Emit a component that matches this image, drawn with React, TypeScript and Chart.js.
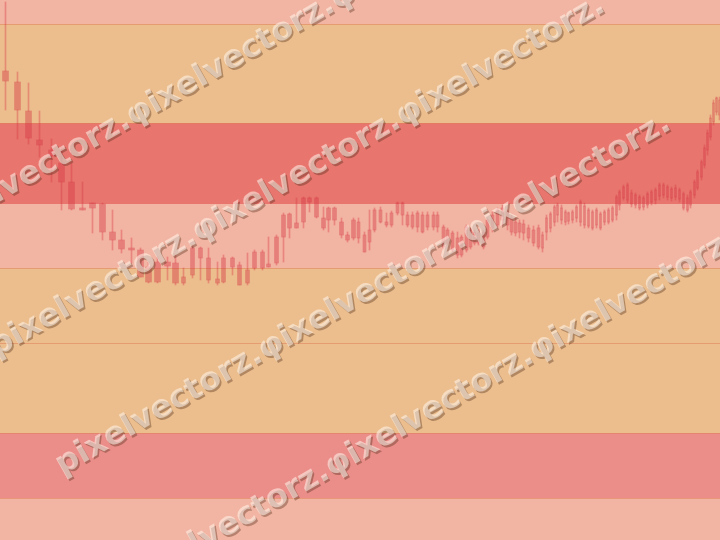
import React, { useEffect, useRef } from "react";
import { Chart, registerables } from "chart.js";

Chart.register(...registerables);

// Candles (time index, price)
const times = [5, 17, 28, 39, 51, 61, 71, 82, 92, 102, 112, 121, 131, 140, 148, 157, 167, 175,
  183, 192, 200, 208, 217, 223, 232, 239, 247, 254, 262, 268, 276, 283, 289, 296, 303, 309, 316, 323, 328, 334, 341, 347, 353,
  358, 364, 369, 374, 380, 386, 391, 397, 402, 407, 412, 417, 422, 427, 433, 437, 443, 447, 452, 457, 461, 466, 470, 474, 478, 483, 487, 492, 497, 502, 507, 511, 515, 519, 523, 528, 533, 538,
  542, 546, 550, 554, 557, 561, 565, 568, 572, 576, 580, 584, 588, 592, 596, 600, 604, 608, 612, 616, 619, 623, 627, 631, 635, 639, 643, 647, 651, 655, 659, 663, 667, 671, 675, 679, 683, 687, 690, 694, 697, 701, 704, 707, 710, 713, 716, 719];
const highs = [53.8, 46.8, 45.7, 42.9, 40.1, 39.3, 37.7, 35.8, 33.7, 33.7, 33.0, 31.0, 30.2, 29.2, 27.8, 28.3, 28.3, 28.5,
  27.2, 29.5, 29.3, 29.2, 27.8, 28.5, 28.3, 27.8, 28.7, 29.0, 29.0, 30.3, 30.5, 32.7, 32.7, 34.2, 34.3, 34.3, 34.3, 33.3, 33.3, 33.3, 32.2, 30.8, 32.2,
  32.2, 30.8, 33.0, 33.2, 33.3, 32.7, 32.9, 33.8, 33.8, 32.8, 32.8, 32.9, 32.8, 32.8, 32.8, 32.8, 31.5, 31.2, 30.9, 30.8, 30.5, 31.5, 31.2, 31.0, 31.0, 31.0, 32.2, 32.8, 33.2, 33.5, 33.0, 32.5, 32.2, 32.0, 32.0, 31.5, 31.4, 31.5,
  30.8, 32.5, 32.8, 33.5, 33.7, 33.5, 33.0, 32.8, 33.0, 33.5, 34.0, 33.7, 33.2, 33.0, 33.2, 32.8, 33.0, 33.2, 33.4, 34.5, 35.0, 35.5, 35.7, 35.0, 34.7, 34.5, 34.4, 34.8, 35.0, 35.2, 35.7, 35.7, 35.5, 35.3, 35.5, 35.2, 34.8, 34.5, 35.0, 36.0, 37.0, 38.0, 39.5, 41.0, 42.5, 44.0, 44.3, 44.3];
const opens = [46.9, 45.8, 42.9, 40.0, 39.0, 37.7, 35.8, 33.2, 33.7, 33.6, 30.8, 30.0, 29.2, 29.0, 27.3, 27.8, 27.8, 27.7,
  26.3, 29.2, 29.2, 28.2, 26.1, 28.2, 28.2, 27.5, 27.0, 28.8, 28.8, 27.6, 30.3, 32.5, 32.6, 31.7, 34.2, 34.2, 34.2, 32.2, 33.2, 33.2, 31.8, 30.5, 32.0,
  31.8, 30.5, 31.0, 33.0, 33.0, 31.8, 32.7, 33.7, 33.7, 32.5, 32.5, 32.7, 32.5, 32.5, 32.5, 32.5, 31.3, 31.0, 30.7, 30.2, 30.3, 31.3, 31.0, 30.8, 30.7, 30.8, 32.0, 32.5, 33.0, 33.2, 32.8, 32.2, 31.8, 31.7, 31.6, 31.2, 31.0, 31.2,
  30.5, 32.2, 32.6, 33.3, 33.5, 33.2, 32.8, 32.7, 32.8, 33.3, 33.8, 33.4, 33.0, 32.8, 33.0, 32.6, 32.8, 33.0, 33.2, 34.3, 34.8, 35.3, 35.5, 34.7, 34.5, 34.3, 34.2, 34.6, 34.8, 35.0, 35.5, 35.5, 35.3, 35.1, 35.2, 35.0, 34.6, 34.2, 34.8, 35.8, 36.8, 37.8, 39.2, 40.7, 42.2, 43.7, 44.2, 44.0];
const closes = [45.9, 43.0, 40.2, 39.5, 38.4, 35.8, 33.1, 33.0, 33.2, 30.8, 30.0, 29.1, 29.0, 26.3, 25.8, 25.8, 27.4, 25.7,
  25.7, 26.5, 28.2, 26.0, 25.7, 25.8, 27.3, 25.5, 25.7, 27.2, 27.2, 27.3, 27.7, 30.3, 31.2, 31.2, 31.8, 33.8, 32.3, 31.2, 32.0, 32.0, 30.5, 30.0, 30.2,
  30.2, 28.8, 29.8, 31.0, 31.8, 31.5, 31.5, 32.7, 32.5, 31.5, 31.3, 31.3, 30.8, 31.3, 31.3, 31.3, 29.3, 29.7, 29.0, 28.5, 28.5, 29.0, 29.3, 29.7, 29.7, 29.3, 30.3, 31.2, 31.5, 32.0, 31.5, 30.8, 30.7, 30.8, 30.7, 30.2, 29.7, 29.3,
  29.2, 30.8, 31.2, 31.8, 32.5, 32.0, 31.8, 31.9, 32.0, 32.2, 31.8, 31.5, 31.4, 31.2, 31.5, 31.2, 31.8, 31.8, 32.0, 32.5, 33.5, 34.2, 34.0, 33.6, 33.5, 33.2, 33.3, 33.5, 33.8, 34.0, 34.4, 34.5, 34.3, 34.2, 34.3, 34.1, 33.2, 33.0, 33.5, 34.5, 35.2, 36.3, 37.5, 39.0, 40.3, 41.8, 42.8, 42.5];
const lows = [43.0, 40.1, 39.6, 38.3, 35.8, 33.0, 33.0, 33.0, 30.7, 30.0, 29.0, 28.7, 27.7, 26.3, 25.7, 25.7, 26.0, 25.5,
  25.5, 26.2, 26.0, 25.7, 25.5, 25.7, 26.5, 25.5, 25.5, 27.0, 27.0, 27.3, 27.5, 27.8, 30.2, 31.2, 31.2, 32.8, 32.2, 31.0, 30.8, 31.5, 30.2, 29.8, 30.0,
  29.7, 28.8, 29.0, 30.8, 31.7, 31.3, 31.3, 32.5, 31.5, 31.3, 31.1, 30.8, 30.7, 31.0, 31.0, 30.8, 29.1, 29.5, 28.8, 28.2, 28.3, 28.8, 29.1, 29.5, 29.5, 29.1, 30.1, 30.8, 31.2, 31.5, 31.0, 30.5, 30.4, 30.2, 30.0, 29.8, 29.4, 29.1,
  28.8, 30.0, 30.8, 31.4, 31.8, 31.6, 31.5, 31.6, 31.7, 31.8, 31.4, 31.2, 31.2, 31.0, 31.2, 31.0, 31.5, 31.6, 31.8, 32.0, 33.0, 34.0, 33.7, 33.3, 33.2, 33.0, 33.0, 33.2, 33.5, 33.6, 34.0, 34.2, 34.0, 33.9, 34.0, 33.8, 33.0, 32.8, 33.2, 34.2, 35.0, 36.0, 37.2, 38.5, 40.0, 41.5, 42.5, 42.0];

// Horizontal zones (price edges, top to bottom) and level lines
const bandEdges = [54, 51.6, 41.7, 33.6, 27.2, 10.7, 4.2, 0];
const levelLines = [51.6, 41.7, 27.2, 19.7, 10.7, 4.2];

// Watermark text lines
const watermarkLines = [
  "pixelvectorz.φixelvectorz.φixelvectorz.",
  "pixelvectorz.φixelvectorz.φixelvectorz.",
  "pixelvectorz.φixelvectorz.φixelvectorz.",
  "pixelvectorz.φixelvectorz.φixelvectorz.",
];

// ---- styles (kept apart from data) ----
const bandColors = ["#F3B5A3", "#ECBE8E", "#E8766F", "#F3B5A3", "#ECBE8E", "#EB8E89", "#F3B5A3"];
const segmentStarts = [0, 18, 43, 81];
const segmentWidths = [6, 4, 3, 2];
const bodyColor = "rgba(213,51,64,0.42)";
const wickColor = "rgba(213,51,64,0.36)";
const wmStarts = [
  [-74.5, 233],
  [-8.3, 349.7],
  [58.3, 466.9],
  [124.9, 584],
];

const bandsPlugin = {
  id: "bands",
  beforeDatasetsDraw(chart: any) {
    const { ctx, chartArea, scales } = chart;
    const y = scales.y;
    const left = chartArea.left;
    const width = chartArea.right - chartArea.left;
    ctx.save();
    for (let i = 0; i < bandColors.length; i++) {
      const top = y.getPixelForValue(bandEdges[i]);
      const bottom = y.getPixelForValue(bandEdges[i + 1]);
      ctx.fillStyle = bandColors[i];
      ctx.fillRect(left, top, width, bottom - top);
    }
    ctx.strokeStyle = "rgba(222,128,88,0.55)";
    ctx.lineWidth = 1;
    for (const lv of levelLines) {
      const py = Math.round(y.getPixelForValue(lv)) + 0.5;
      ctx.beginPath();
      ctx.moveTo(left, py);
      ctx.lineTo(chartArea.right, py);
      ctx.stroke();
    }
    ctx.restore();
  },
};

export default function App() {
  const ref = useRef<HTMLCanvasElement | null>(null);

  useEffect(() => {
    if (!ref.current) return;
    const datasets: any[] = [];
    const upper = times.map((t, i) => ({ x: t, y: [Math.max(opens[i], closes[i]), highs[i]] }));
    const lower = times.map((t, i) => ({ x: t, y: [lows[i], Math.min(opens[i], closes[i])] }));
    datasets.push({ data: upper, backgroundColor: wickColor, barThickness: 1, grouped: false, borderWidth: 0 });
    datasets.push({ data: lower, backgroundColor: wickColor, barThickness: 1, grouped: false, borderWidth: 0 });
    for (let s = 0; s < segmentStarts.length; s++) {
      const a = segmentStarts[s];
      const b = s + 1 < segmentStarts.length ? segmentStarts[s + 1] : times.length;
      const data = [];
      for (let i = a; i < b; i++) {
        data.push({ x: times[i], y: [Math.min(opens[i], closes[i]), Math.max(opens[i], closes[i])] });
      }
      datasets.push({
        data,
        backgroundColor: bodyColor,
        barThickness: segmentWidths[s],
        minBarLength: 1,
        grouped: false,
        borderWidth: 0,
      });
    }
    const chart = new Chart(ref.current, {
      type: "bar",
      data: { datasets },
      options: {
        animation: false,
        responsive: false,
        layout: { padding: 0 },
        plugins: { legend: { display: false }, tooltip: { enabled: false } },
        scales: {
          x: { type: "linear", min: -0.5, max: 719.5, offset: false, display: false },
          y: { type: "linear", min: 0, max: 54, display: false },
        },
      },
      plugins: [bandsPlugin],
    } as any);
    return () => chart.destroy();
  }, []);

  return (
    <div style={{ position: "fixed", left: 0, top: 0, width: 720, height: 540, overflow: "hidden" }}>
      <canvas ref={ref} width={720} height={540} style={{ display: "block" }} />
      {watermarkLines.map((txt, i) => (
        <div
          key={i}
          style={{
            position: "absolute",
            left: wmStarts[i][0],
            top: wmStarts[i][1] - 22.4,
            transformOrigin: "0 22.4px",
            transform: "rotate(-29.6deg)",
            whiteSpace: "nowrap",
            fontFamily: '"DejaVu Sans", sans-serif',
            fontWeight: "bold",
            fontSize: 32,
            lineHeight: "40px",
            color: "rgba(255,246,236,0.55)",
            textShadow: "0.5px 2.5px 0.5px rgba(70,35,15,0.35)",
            pointerEvents: "none",
          }}
        >
          {txt}
        </div>
      ))}
    </div>
  );
}
